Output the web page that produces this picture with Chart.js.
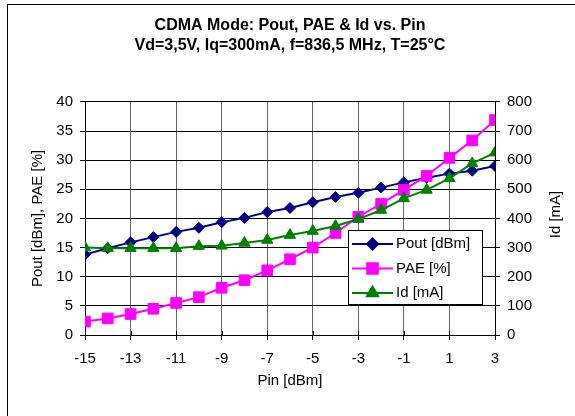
<!DOCTYPE html>
<html>
<head>
<meta charset="utf-8">
<script src="https://cdn.jsdelivr.net/npm/chart.js@4/dist/chart.umd.min.js"></script>
<style>
  body { margin: 0; background: #fff; overflow: hidden; }
  #wrap { position: relative; width: 575px; height: 416px; }
  #frame { position: absolute; left: 7px; top: 4px; width: 700px; height: 500px;
           border-left: 1px solid #000; border-top: 1px solid #000; pointer-events: none; }
</style>
</head>
<body>
<div id="wrap">
  <canvas id="cdmaChart" width="575" height="416"></canvas>
  <div id="frame"></div>
</div>
<script>
// CDMA mode sweep: Pout, PAE and Id against input power

var pin = [-15, -14, -13, -12, -11, -10, -9, -8, -7, -6, -5, -4, -3, -2, -1, 0, 1, 2, 3];
var pout = [13.8, 14.9, 15.9, 16.8, 17.7, 18.4, 19.35, 20.1, 21.1, 21.8, 22.8, 23.7, 24.4, 25.3, 26.2, 27.0, 27.7, 28.2, 29.0];
var pae = [2.3, 2.85, 3.6, 4.5, 5.5, 6.5, 8.1, 9.4, 11.1, 13.0, 15.0, 17.5, 20.3, 22.5, 24.9, 27.3, 30.4, 33.4, 36.9];
var idma = [300, 298, 298, 298, 298, 305, 306, 316, 326, 343, 357, 374, 398, 429, 469, 498, 538, 589, 626];
var xTicks = [-15, -13, -11, -9, -7, -5, -3, -1, 1, 3];
var rightTitle = 'Id [mA]';

var FONT = "'Liberation Sans', Arial, sans-serif";
Chart.defaults.color = '#000';
Chart.defaults.font.family = FONT;
Chart.defaults.font.size = 15;

function pts(ys) {
    return pin.map(function (x, i) { return { x: x, y: ys[i] }; });
}

var series = [
    { label: 'Pout [dBm]', data: pts(pout), axis: 'y', color: '#000080', style: 'rectRot', radius: 5.5, order: 2 },
    { label: 'PAE [%]', data: pts(pae), axis: 'y', color: '#FF00FF', style: 'rect', radius: 7.5, order: 1 },
    { label: 'Id [mA]', data: pts(idma), axis: 'y1', color: '#008000', style: 'triangle', radius: 6.5, order: 0 }
];

// legend box sitting inside the plot, like the spreadsheet one
var boxLegend = {
    id: 'boxLegend',
    afterDraw: function (chart) {
        var ctx = chart.ctx;
        var a = chart.chartArea;
        var x0 = a.right - 147, y0 = a.bottom - 105, w = 134, h = 74;
        ctx.save();
        ctx.fillStyle = '#fff';
        ctx.fillRect(x0, y0, w, h);
        ctx.strokeStyle = '#000';
        ctx.lineWidth = 1;
        ctx.strokeRect(x0 + 0.5, y0 + 0.5, w, h);
        ctx.font = '15px ' + FONT;
        ctx.textBaseline = 'middle';
        series.forEach(function (s, i) {
            var cy = y0 + 14 + i * 24.5;
            ctx.strokeStyle = s.color;
            ctx.lineWidth = 2;
            ctx.beginPath();
            ctx.moveTo(x0 + 4, cy);
            ctx.lineTo(x0 + 45, cy);
            ctx.stroke();
            ctx.fillStyle = s.color;
            Chart.helpers.drawPoint(ctx, {
                pointStyle: s.style, radius: s.radius, rotation: 0, borderWidth: 1
            }, x0 + 24.5, cy);
            ctx.fillStyle = '#000';
            ctx.fillText(s.label, x0 + 48, cy);
        });
        ctx.restore();
    }
};

// small tick marks crossing the x axis, and the right title read bottom-up
var axisExtras = {
    id: 'axisExtras',
    afterDatasetsDraw: function (chart) {
        var ctx = chart.ctx;
        var xs = chart.scales.x;
        var a = chart.chartArea;
        ctx.save();
        ctx.strokeStyle = '#000';
        ctx.lineWidth = 1;
        ctx.beginPath();
        xTicks.forEach(function (v) {
            var px = Math.round(xs.getPixelForValue(v)) + 0.5;
            ctx.moveTo(px, a.bottom - 4);
            ctx.lineTo(px, a.bottom);
        });
        ctx.stroke();

        var r = chart.scales.y1;
        ctx.translate(r.right - 19, (a.top + a.bottom) / 2 - 4);
        ctx.rotate(-Math.PI / 2);
        ctx.font = '15px ' + FONT;
        ctx.fillStyle = '#000';
        ctx.textAlign = 'center';
        ctx.textBaseline = 'middle';
        ctx.fillText(rightTitle, 0, 0);
        ctx.restore();
    }
};

var ctx = document.getElementById('cdmaChart');

var cdmaChart = new Chart(ctx, {
    type: 'line',
    data: {
        datasets: series.map(function (s) {
            return {
                label: s.label,
                data: s.data,
                yAxisID: s.axis,
                order: s.order,
                borderColor: s.color,
                backgroundColor: s.color,
                borderWidth: 2,
                pointStyle: s.style,
                pointRadius: s.radius,
                pointBorderWidth: 1,
                pointBackgroundColor: s.color,
                pointBorderColor: s.color,
                fill: false,
                tension: 0
            };
        })
    },
    options: {
        responsive: false,
        animation: false,
        layout: { padding: 0 },
        plugins: {
            legend: { display: false },
            tooltip: { enabled: false },
            title: {
                display: true,
                fullSize: false,
                text: ['CDMA Mode: Pout, PAE & Id vs. Pin', 'Vd=3,5V, Iq=300mA, f=836,5 MHz, T=25°C'],
                color: '#000',
                font: { size: 16, weight: 'bold', lineHeight: 1.28 },
                padding: { top: 15, bottom: 46 }
            }
        },
        scales: {
            x: {
                type: 'linear',
                min: -15,
                max: 3,
                afterBuildTicks: function (scale) {
                    scale.ticks = xTicks.map(function (v) { return { value: v }; });
                },
                afterFit: function (scale) { scale.height = 81; },
                grid: { color: '#666', tickColor: '#000', tickLength: 5 },
                border: { color: '#000', width: 1 },
                ticks: { padding: 10, font: { size: 15 } },
                title: { display: true, text: 'Pin [dBm]', font: { size: 15 }, padding: { top: 0, bottom: 26 } }
            },
            y: {
                position: 'left',
                min: 0,
                max: 40,
                afterFit: function (scale) { scale.width = 85; },
                grid: { color: '#000', tickColor: '#000', tickLength: 5 },
                border: { color: '#000', width: 1 },
                ticks: { stepSize: 5, padding: 7, font: { size: 15 } },
                title: { display: true, text: 'Pout [dBm], PAE [%]', font: { size: 15 }, padding: { top: 29, bottom: 0 } }
            },
            y1: {
                position: 'right',
                min: 0,
                max: 800,
                afterFit: function (scale) { scale.width = 80; },
                grid: { drawOnChartArea: false, tickColor: '#000', tickLength: 5 },
                border: { color: '#000', width: 1 },
                ticks: { stepSize: 100, padding: 7, font: { size: 15 } },
                title: { display: false }
            }
        }
    },
    plugins: [boxLegend, axisExtras]
});
</script>
</body>
</html>
